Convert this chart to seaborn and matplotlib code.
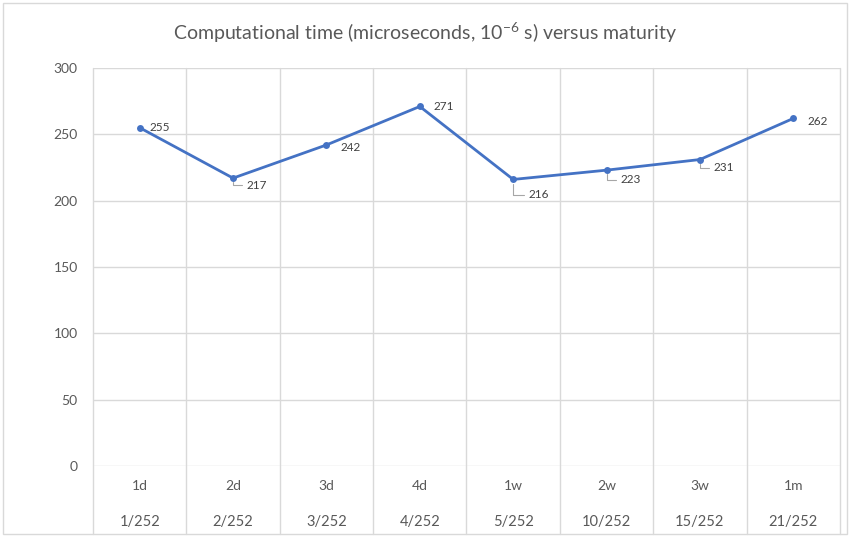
import matplotlib
matplotlib.use("Agg")
import matplotlib.pyplot as plt
import matplotlib.transforms as mtransforms
from matplotlib.patches import Rectangle
import pandas as pd
import seaborn as sns

# data
maturity_short = ["1d", "2d", "3d", "4d", "1w", "2w", "3w", "1m"]
maturity_frac = ["1/252", "2/252", "3/252", "4/252", "5/252", "10/252", "15/252", "21/252"]
comp_time = [255, 217, 242, 271, 216, 223, 231, 262]
# label offsets in points (dx, dy) and whether a leader line is drawn
label_offsets = [(7, 0), (10, -5), (10, -2), (10, 0), (11, -11), (10, -7), (10, -6), (10, -2)]
has_leader = [False, True, False, False, True, True, True, False]

LINE_COLOR = "#4472C4"
GRID_COLOR = "#D9D9D9"
TEXT_COLOR = "#595959"

sns.set_theme(style="white")
plt.rcParams["font.family"] = ["Lato", "DejaVu Sans"]
plt.rcParams["mathtext.fontset"] = "custom"
plt.rcParams["mathtext.rm"] = "Lato"

df = pd.DataFrame({"maturity": maturity_short, "time": comp_time})

fig = plt.figure(figsize=(8.5, 5.36), dpi=100)
ax = fig.add_axes([93 / 850, 1 - 466 / 536, (840 - 93) / 850, (466 - 68) / 536])

sns.lineplot(data=df, x="maturity", y="time", ax=ax, color=LINE_COLOR,
             linewidth=2.0, marker="o", markersize=5, markeredgewidth=0, sort=False)

n = len(maturity_short)
ax.set_xlim(-0.5, n - 0.5)
ax.set_ylim(0, 300)
ax.set_yticks(range(0, 301, 50))
ax.tick_params(axis="y", length=0, pad=11, labelsize=10, labelcolor=TEXT_COLOR)
ax.set_xticks([])
ax.set_xlabel("")
ax.set_ylabel("")
for s in ax.spines.values():
    s.set_visible(False)

# horizontal grid
for yv in range(0, 301, 50):
    ax.axhline(yv, color=GRID_COLOR, linewidth=1, zorder=0)

# vertical band separators, extending into the category label area
bottom_frac = -(534 - 466) / 398
trans = mtransforms.blended_transform_factory(ax.transData, ax.transAxes)
for i in range(n + 1):
    ax.plot([i - 0.5, i - 0.5], [bottom_frac, 1], color=GRID_COLOR, linewidth=1,
            transform=trans, clip_on=False, zorder=0)

# two-level category labels
for i in range(n):
    ax.text(i, -(486 - 466) / 398, maturity_short[i], transform=trans, ha="center",
            va="center", fontsize=10, color=TEXT_COLOR)
    ax.text(i, -(522 - 466) / 398, maturity_frac[i], transform=trans, ha="center",
            va="center", fontsize=10.5, color=TEXT_COLOR)

# data labels
for i in range(n):
    dx, dy = label_offsets[i]
    kw = {}
    if has_leader[i]:
        kw["arrowprops"] = dict(arrowstyle="-", color="#A6A6A6", linewidth=0.8,
                                shrinkA=1, shrinkB=3,
                                connectionstyle="angle,angleA=0,angleB=90,rad=0")
    ax.annotate(str(comp_time[i]), xy=(i, comp_time[i]), xytext=(dx, dy),
                textcoords="offset points", ha="left", va="center",
                fontsize=8.5, color="#404040", **kw)

fig.text(0.5, 1 - 33 / 536, r"Computational time (microseconds, 10$^{\mathrm{-6}}$ s) versus maturity",
         ha="center", va="center", fontsize=14, color=TEXT_COLOR)

# chart border
fig.patches.append(Rectangle((0.003, 0.003), 0.994, 0.992, transform=fig.transFigure,
                             fill=False, edgecolor=GRID_COLOR, linewidth=1))

fig.savefig("out.png", dpi=100)
